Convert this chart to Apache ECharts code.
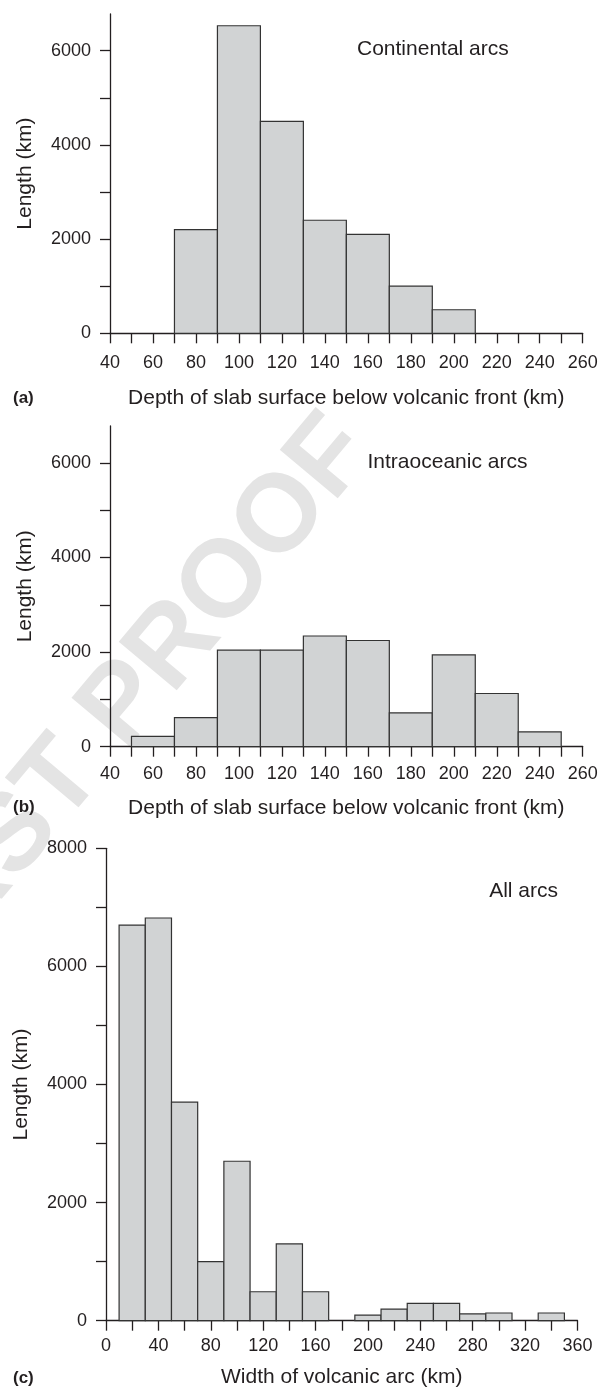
<!DOCTYPE html>
<html><head><meta charset="utf-8">
<script src="https://cdn.jsdelivr.net/npm/echarts@6/dist/echarts.min.js"></script>
<style>html,body{margin:0;padding:0;background:#fff}#chart{width:602px;height:1389px}</style>
</head><body><div id="chart"></div>
<script>
// ---- data ----
const depthBinStartsA = [70, 90, 110, 130, 150, 170, 190];
const continentalLengths = [2200, 6530, 4500, 2400, 2100, 1000, 500];
const depthBinStartsB = [50, 70, 90, 110, 130, 150, 170, 190, 210, 230];
const intraoceanicLengths = [220, 615, 2040, 2040, 2340, 2245, 715, 1940, 1125, 315];
const widthBinStarts = [10, 30, 50, 70, 90, 110, 130, 150, 190, 210, 230, 250, 270, 290, 330];
const allArcLengths = [6700, 6820, 3700, 1000, 2700, 490, 1300, 490, 95, 195, 295, 295, 115, 130, 130];
const binWidthKm = 20;

const depthTickValues = [40, 50, 60, 70, 80, 90, 100, 110, 120, 130, 140, 150, 160, 170, 180, 190, 200, 210, 220, 230, 240, 250, 260];
const depthLabelValues = [40, 60, 80, 100, 120, 140, 160, 180, 200, 220, 240, 260];
const lengthTickValuesAB = [0, 1000, 2000, 3000, 4000, 5000, 6000];
const lengthLabelValuesAB = [0, 2000, 4000, 6000];
const widthTickValues = [0, 20, 40, 60, 80, 100, 120, 140, 160, 180, 200, 220, 240, 260, 280, 300, 320, 340, 360];
const widthLabelValues = [0, 40, 80, 120, 160, 200, 240, 280, 320, 360];
const lengthTickValuesC = [0, 1000, 2000, 3000, 4000, 5000, 6000, 7000, 8000];
const lengthLabelValuesC = [0, 2000, 4000, 6000, 8000];

const panelTitles = ['Continental arcs', 'Intraoceanic arcs', 'All arcs'];
const panelLetters = ['(a)', '(b)', '(c)'];
const depthAxisName = 'Depth of slab surface below volcanic front (km)';
const widthAxisName = 'Width of volcanic arc (km)';
const lengthAxisName = 'Length (km)';
const watermarkText = 'FIRST PROOF';

// ---- styling ----
const FONT = '"Liberation Sans", Arial, Helvetica, sans-serif';
const INK = '#231f20';

function toBins(starts, vals) { return starts.map((s, i) => [s, s + binWidthKm, vals[i]]); }

function histItem(params, api) {
  const tl = api.coord([api.value(0), api.value(2)]);
  const br = api.coord([api.value(1), 0]);
  return {
    type: 'rect',
    shape: { x: tl[0], y: tl[1], width: br[0] - tl[0], height: br[1] - tl[1] },
    style: { fill: '#d1d3d4', stroke: '#333333', lineWidth: 1.2 }
  };
}

const plain = v => String(v);

function xAxisCfg(gi, min, max, ticks, labels, name, margin, gap) {
  return {
    type: 'value', gridIndex: gi, min: min, max: max,
    name: name, nameLocation: 'middle', nameGap: gap,
    nameTextStyle: { fontFamily: FONT, fontSize: 21, color: INK },
    axisLine: { show: true, onZero: false, lineStyle: { color: INK, width: 1.3 } },
    axisTick: { show: true, length: 10, customValues: ticks, lineStyle: { color: INK, width: 1.3 } },
    axisLabel: { customValues: labels, formatter: plain, margin: margin, fontFamily: FONT, fontSize: 18, color: INK },
    splitLine: { show: false }
  };
}
function yAxisCfg(gi, max, ticks, labels) {
  return {
    type: 'value', gridIndex: gi, min: 0, max: max,
    name: lengthAxisName, nameLocation: 'middle', nameGap: 74,
    nameTextStyle: { fontFamily: FONT, fontSize: 21, color: INK },
    axisLine: { show: true, lineStyle: { color: INK, width: 1.3 } },
    axisTick: { show: true, length: 10, customValues: ticks, lineStyle: { color: INK, width: 1.3 } },
    axisLabel: { customValues: labels, formatter: plain, margin: 19, fontFamily: FONT, fontSize: 18, color: INK },
    splitLine: { show: false }
  };
}

const textEl = (x, y, text, opts) => ({
  type: 'text', x: x, y: y,
  style: Object.assign({ text: text, fill: INK, font: '21px ' + FONT, verticalAlign: 'middle', align: 'left' }, opts || {})
});

const wmAngle = 50 * Math.PI / 180;

const option = {
  animation: false,
  backgroundColor: '#ffffff',
  grid: [
    { left: 110, top: 14, width: 472.7, height: 319.3 },
    { left: 110, top: 426, width: 472.7, height: 320.7 },
    { left: 106, top: 848.3, width: 471.5, height: 472.4 }
  ],
  xAxis: [
    xAxisCfg(0, 40, 260, depthTickValues, depthLabelValues, depthAxisName, 21, 54),
    xAxisCfg(1, 40, 260, depthTickValues, depthLabelValues, depthAxisName, 18, 51),
    xAxisCfg(2, 0, 360, widthTickValues, widthLabelValues, widthAxisName, 16, 46)
  ],
  yAxis: [
    yAxisCfg(0, 6780, lengthTickValuesAB, lengthLabelValuesAB),
    yAxisCfg(1, 6780, lengthTickValuesAB, lengthLabelValuesAB),
    yAxisCfg(2, 8000, lengthTickValuesC, lengthLabelValuesC)
  ],
  series: [
    { type: 'custom', xAxisIndex: 0, yAxisIndex: 0, renderItem: histItem, encode: { x: [0, 1], y: 2 }, data: toBins(depthBinStartsA, continentalLengths) },
    { type: 'custom', xAxisIndex: 1, yAxisIndex: 1, renderItem: histItem, encode: { x: [0, 1], y: 2 }, data: toBins(depthBinStartsB, intraoceanicLengths) },
    { type: 'custom', xAxisIndex: 2, yAxisIndex: 2, renderItem: histItem, encode: { x: [0, 1], y: 2 }, data: toBins(widthBinStarts, allArcLengths) }
  ],
  graphic: [
    { type: 'text', x: 353, y: 433, rotation: wmAngle, z: -100,
      style: { text: watermarkText, font: 'bold 110px ' + FONT, fill: '#e4e4e4', align: 'right', verticalAlign: 'middle' } },
    textEl(357, 49.3, panelTitles[0]),
    textEl(367.5, 462.7, panelTitles[1]),
    textEl(558, 891.3, panelTitles[2], { align: 'right' }),
    textEl(13, 398.3, panelLetters[0], { font: 'bold 17px ' + FONT }),
    textEl(13, 807.3, panelLetters[1], { font: 'bold 17px ' + FONT }),
    textEl(13, 1378.3, panelLetters[2], { font: 'bold 17px ' + FONT })
  ]
};

const chart = echarts.init(document.getElementById('chart'), null, { renderer: 'canvas', width: 602, height: 1389 });
chart.setOption(option);
</script>
</body></html>
